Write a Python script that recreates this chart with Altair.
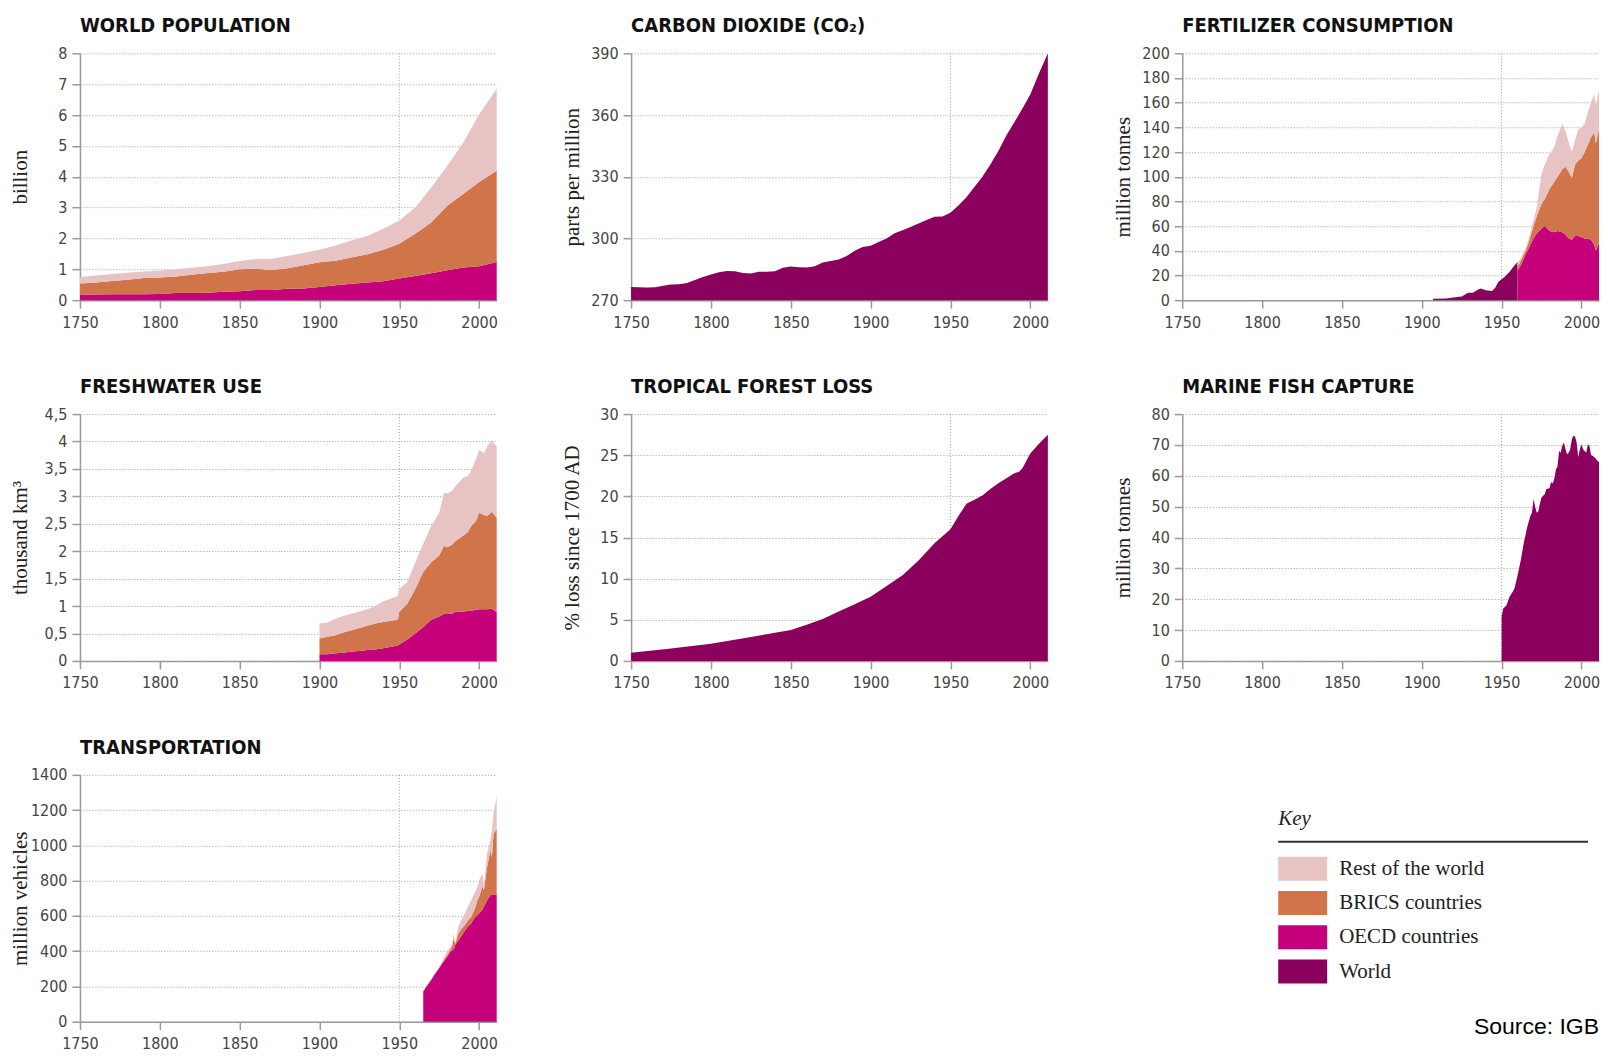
import altair as alt
import pandas as pd

# ---------------- categories / colours ----------------
GROUPS = ["Rest of the world", "BRICS countries", "OECD countries", "World"]
COLORS = ["#e8c3c3", "#d0744a", "#c5007a", "#8b005c"]

X_TICKS = [1750, 1800, 1850, 1900, 1950, 2000]

# ---------------- World population (billion) ----------------
pop_years = [1750, 1760, 1770, 1780, 1790, 1800, 1810, 1820, 1830, 1840, 1850, 1860, 1870,
             1880, 1890, 1900, 1910, 1920, 1930, 1940, 1950, 1960, 1970, 1980, 1990, 2000, 2011]
pop_oecd = [0.18, 0.18, 0.19, 0.19, 0.19, 0.20, 0.23, 0.23, 0.24, 0.27, 0.29, 0.33, 0.33,
            0.37, 0.38, 0.43, 0.48, 0.53, 0.57, 0.61, 0.70, 0.78, 0.87, 0.97, 1.06, 1.10, 1.24]
pop_brics = [0.36, 0.39, 0.43, 0.47, 0.53, 0.53, 0.54, 0.59, 0.64, 0.65, 0.71, 0.69, 0.65,
             0.66, 0.75, 0.80, 0.80, 0.85, 0.92, 1.02, 1.13, 1.37, 1.65, 2.09, 2.38, 2.73, 2.95]
pop_rest = [0.21, 0.23, 0.23, 0.23, 0.21, 0.22, 0.23, 0.23, 0.22, 0.25, 0.27, 0.31, 0.36,
            0.40, 0.40, 0.40, 0.49, 0.55, 0.59, 0.68, 0.75, 0.85, 1.13, 1.29, 1.66, 2.19, 2.66]

# ---------------- Carbon dioxide (ppm) ----------------
co2_years = [1750, 1755, 1760, 1765, 1770, 1775, 1780, 1785, 1790, 1795,
             1800, 1805, 1810, 1815, 1820, 1825, 1830, 1835, 1840, 1845,
             1850, 1855, 1860, 1865, 1870, 1875, 1880, 1885, 1890, 1895,
             1900, 1905, 1910, 1915, 1920, 1925, 1930, 1935, 1940, 1945,
             1950, 1955, 1960, 1965, 1970, 1975, 1980, 1985, 1990, 1995, 2000, 2005, 2011]
co2_ppm = [276.4, 276.3, 276.1, 276.3, 277.0, 277.6, 277.7, 278.3, 279.8, 281.3,
           282.5, 283.5, 284.2, 284.0, 283.2, 283.0, 283.8, 283.8, 284.0, 285.8,
           286.4, 286.0, 285.9, 286.5, 288.3, 289.0, 289.8, 291.5, 294.0, 295.8,
           296.5, 298.3, 300.0, 302.5, 304.0, 305.5, 307.3, 309.0, 310.6, 310.7,
           312.5, 316.0, 320.0, 325.0, 330.0, 336.0, 342.5, 350.0, 356.5, 363.0, 370.0, 379.5, 390.0]

# ---------------- Fertilizer consumption (million tonnes) ----------------
fert_world_years = [1907, 1915, 1922, 1925, 1929, 1932, 1935, 1937, 1940, 1944, 1946,
                    1948, 1950, 1952, 1955, 1958, 1960]
fert_world = [1.2, 1.3, 2.5, 3.0, 6.0, 6.0, 8.5, 9.5, 8.0, 7.5, 10.0,
              15.0, 17.0, 19.0, 23.0, 28.0, 31.0]
fert_years = [1960, 1962, 1965, 1967, 1970, 1972, 1975, 1977, 1980, 1983, 1985, 1988,
              1990, 1992, 1994, 1996, 1998, 2000, 2002, 2004, 2006, 2008, 2009, 2011]
fert_oecd = [24, 28, 37, 42, 50, 54, 58, 60, 56, 55, 56, 55,
             53, 50, 49, 52, 52, 51, 50, 50, 49, 45, 40, 46]
fert_brics = [3, 4, 3, 5, 10, 14, 20, 22, 34, 41, 44, 51,
              55, 54, 50, 58, 61, 64, 70, 76, 83, 91, 87, 93]
fert_rest = [4, 2, 2, 3, 5, 7, 24, 28, 28, 28, 33, 37,
             29, 24, 21, 20, 25, 25, 23, 26, 28, 31, 31, 31]

# ---------------- Freshwater use (thousand km3) ----------------
fw_years = [1900, 1905, 1910, 1915, 1920, 1925, 1930, 1935, 1940, 1945, 1949, 1950, 1955,
            1960, 1965, 1970, 1975, 1978, 1980, 1983, 1985, 1990, 1993, 1995, 1998, 2000,
            2003, 2005, 2008, 2009, 2011]
fw_oecd = [0.12, 0.12, 0.14, 0.15, 0.17, 0.18, 0.20, 0.21, 0.23, 0.26, 0.28, 0.30, 0.39,
           0.50, 0.62, 0.75, 0.81, 0.86, 0.87, 0.86, 0.89, 0.90, 0.91, 0.92, 0.93, 0.94,
           0.94, 0.94, 0.95, 0.93, 0.89]
fw_brics = [0.29, 0.32, 0.33, 0.37, 0.39, 0.42, 0.44, 0.47, 0.48, 0.47, 0.47, 0.59, 0.65,
            0.81, 1.00, 1.05, 1.11, 1.24, 1.20, 1.26, 1.29, 1.38, 1.44, 1.54, 1.62, 1.76,
            1.72, 1.70, 1.77, 1.75, 1.72]
fw_rest = [0.27, 0.26, 0.30, 0.30, 0.30, 0.30, 0.30, 0.32, 0.38, 0.41, 0.44, 0.42, 0.40,
           0.49, 0.51, 0.66, 0.78, 0.96, 0.98, 0.98, 1.00, 1.06, 1.02, 1.00, 1.12, 1.15,
           1.13, 1.27, 1.31, 1.29, 1.30]

# ---------------- Tropical forest loss (% since 1700) ----------------
forest_years = [1750, 1775, 1800, 1825, 1850, 1860, 1870, 1880, 1890, 1900, 1910, 1920, 1930,
                1940, 1950, 1955, 1960, 1965, 1970, 1975, 1980, 1985, 1990, 1993, 1995, 2000,
                2005, 2011]
forest_loss = [1.0, 1.5, 2.1, 2.9, 3.75, 4.4, 5.1, 6.0, 6.9, 7.8, 9.1, 10.4, 12.2,
               14.3, 16.0, 17.6, 19.1, 19.6, 20.1, 20.9, 21.6, 22.2, 22.8, 23.0, 23.4, 25.2,
               26.3, 27.5]

# ---------------- Marine fish capture (million tonnes) ----------------
fish_years = [1950, 1951, 1953, 1955, 1957, 1958, 1960, 1962, 1964, 1966, 1968, 1969, 1970,
              1971, 1972, 1973, 1974, 1975, 1976, 1977, 1978, 1980, 1981, 1982, 1983, 1984,
              1985, 1986, 1987, 1988, 1989, 1990, 1991, 1992, 1993, 1994, 1995, 1996, 1997,
              1998, 1999, 2000, 2001, 2002, 2003, 2004, 2005, 2006, 2007, 2008, 2009, 2010, 2011]
fish_catch = [14.3, 17.0, 18.0, 20.8, 22.4, 23.4, 27.7, 32.6, 38.5, 43.3, 47.0, 48.0, 52.5,
              50.0, 48.0, 48.5, 51.0, 53.0, 53.5, 54.0, 55.7, 56.0, 58.0, 57.5, 59.0, 62.0,
              63.0, 68.0, 67.5, 69.7, 70.8, 68.6, 67.0, 67.5, 68.6, 71.8, 73.0, 72.7, 70.8,
              66.0, 68.6, 70.2, 68.6, 68.0, 67.5, 70.2, 69.7, 66.7, 66.5, 66.0, 65.6, 64.8, 64.5]

# ---------------- Transportation (million vehicles) ----------------
tr_years = [1965, 1967, 1970, 1972, 1975, 1977, 1980, 1982, 1983, 1984, 1985, 1987, 1990,
            1992, 1993, 1995, 1997, 1999, 2000, 2002, 2003, 2005, 2007, 2008, 2009, 2011]
tr_oecd = [171, 200, 237, 266, 303, 331, 369, 397, 405, 407, 435, 460, 501,
           529, 540, 557, 586, 605, 614, 633, 652, 689, 717, 720, 723, 722]
tr_brics = [0, 1, 2, 2, 4, 5, 11, 13, 20, 63, 5, 40, 38,
            31, 36, 38, 47, 84, 94, 132, 94, 189, 255, 214, 343, 368]
tr_rest = [1, 2, 3, 4, 6, 9, 20, 15, 15, 30, 10, 40, 56,
           70, 76, 94, 94, 76, 94, 75, 37, 75, 56, 151, 113, 190]

# ---------------- layout constants ----------------
W, H = 417, 247
LABEL_FONT = "'Liberation Sans Narrow', 'DejaVu Sans Condensed', sans-serif"
SERIF = "'Liberation Serif', 'DejaVu Serif', serif"
GRID = "#9c9c9c"
AXIS = "#9a9a9a"

color_scale = alt.Scale(domain=GROUPS, range=COLORS)
x_enc = alt.X(
    "year:Q",
    scale=alt.Scale(domain=[1750, 2011], nice=False, zero=False),
    axis=alt.Axis(values=X_TICKS, format="d", title=None, grid=False, tickSize=8,
                  labelPadding=6, labelFlush=False, labelOverlap=False),
)


def stacked_df(years, oecd, brics, rest):
    rows = []
    for y, o, b, r in zip(years, oecd, brics, rest):
        rows.append({"year": y, "group": "OECD countries", "rank": 0, "value": o})
        rows.append({"year": y, "group": "BRICS countries", "rank": 1, "value": b})
        rows.append({"year": y, "group": "Rest of the world", "rank": 2, "value": r})
    return pd.DataFrame(rows)


def world_df(years, vals):
    return pd.DataFrame({"year": years, "value": vals, "group": ["World"] * len(years),
                         "rank": [0] * len(years)})


def y_enc(title, ticks, domain, stack, label_expr=None, fmt="d"):
    ax = dict(values=ticks, title=title, grid=True, gridDash=[1, 2], gridColor=GRID,
              gridWidth=1, tickSize=8, labelPadding=5, labelOverlap=False, format=fmt,
              titleX=-59, titleY=H / 2, titleAngle=270, titleAlign="center",
              titleBaseline="middle", titleFont=SERIF, titleFontSize=21,
              titleFontWeight="normal", titleColor="#222")
    if label_expr:
        ax["labelExpr"] = label_expr
    return alt.Y("value:Q", stack=stack,
                 scale=alt.Scale(domain=domain, nice=False, zero=False),
                 axis=alt.Axis(**ax))


def area_layer(df, ytitle, yticks, ydomain, stacked, label_expr=None, fmt="d"):
    return alt.Chart(df).mark_area(interpolate="linear", opacity=1).encode(
        x=x_enc,
        y=y_enc(ytitle, yticks, ydomain, "zero" if stacked else None, label_expr, fmt),
        color=alt.Color("group:N", scale=color_scale, legend=None),
        order=alt.Order("rank:Q", sort="ascending"),
    )


def panel(title, areas):
    rule = alt.Chart(pd.DataFrame({"year": [1950]})).mark_rule(
        color=GRID, strokeDash=[1, 2], strokeWidth=1).encode(x=x_enc)
    return alt.layer(rule, *areas).properties(
        width=W, height=H,
        title=alt.TitleParams(text=title, anchor="start", frame="group",
                              font=LABEL_FONT, fontSize=20, fontWeight="bold",
                              color="#111", offset=9),
    )


p_pop = panel("WORLD POPULATION", [
    area_layer(stacked_df(pop_years, pop_oecd, pop_brics, pop_rest), "billion",
               list(range(0, 9)), [0, 8], True)])
p_co2 = panel("CARBON DIOXIDE (CO\u2082)", [
    area_layer(world_df(co2_years, co2_ppm), "parts per million",
               [270, 300, 330, 360, 390], [270, 390], False)])
p_fert = panel("FERTILIZER CONSUMPTION", [
    area_layer(world_df(fert_world_years, fert_world), "million tonnes",
               list(range(0, 201, 20)), [0, 200], False),
    area_layer(stacked_df(fert_years, fert_oecd, fert_brics, fert_rest), "million tonnes",
               list(range(0, 201, 20)), [0, 200], True)])
p_fw = panel("FRESHWATER USE", [
    area_layer(stacked_df(fw_years, fw_oecd, fw_brics, fw_rest), "thousand km\u00b3",
               [0, 0.5, 1, 1.5, 2, 2.5, 3, 3.5, 4, 4.5], [0, 4.5], True,
               label_expr="replace(datum.label, '.', ',')", fmt=".1~f")])
p_forest = panel("TROPICAL FOREST LOSS", [
    area_layer(world_df(forest_years, forest_loss), "% loss since 1700 AD",
               list(range(0, 31, 5)), [0, 30], False)])
p_fish = panel("MARINE FISH CAPTURE", [
    area_layer(world_df(fish_years, fish_catch), "million tonnes",
               list(range(0, 81, 10)), [0, 80], False)])
p_tr = panel("TRANSPORTATION", [
    area_layer(stacked_df(tr_years, tr_oecd, tr_brics, tr_rest), "million vehicles",
               list(range(0, 1401, 200)), [0, 1400], True)])

# ---------------- key ----------------
KX = 647.5
key_df = pd.DataFrame({"group": GROUPS})
key_y = alt.Y("group:N", sort=GROUPS, axis=None,
              scale=alt.Scale(range=[82, 208.9], paddingInner=0.3, paddingOuter=0))
key_swatch = alt.Chart(key_df).mark_rect().encode(
    y=key_y, x=alt.value(KX), x2=alt.value(KX + 49),
    color=alt.Color("group:N", scale=color_scale, legend=None))
key_labels = alt.Chart(key_df).mark_text(
    align="left", baseline="middle", font=SERIF, fontSize=21, color="#222").encode(
    y=key_y, x=alt.value(KX + 61), text="group:N")
key_title = alt.Chart(pd.DataFrame({"t": ["Key"]})).mark_text(
    align="left", baseline="alphabetic", font=SERIF, fontStyle="italic", fontSize=21,
    color="#222").encode(x=alt.value(KX), y=alt.value(50), text="t:N")
key_rule = alt.Chart(pd.DataFrame({"t": [0]})).mark_rule(color="#333", strokeWidth=2).encode(
    x=alt.value(KX), x2=alt.value(KX + 310), y=alt.value(67))
source = alt.Chart(pd.DataFrame({"t": ["Source: IGB"]})).mark_text(
    align="right", baseline="alphabetic", font="'Liberation Sans', Arial, sans-serif",
    fontSize=23, color="#000").encode(x=alt.value(KX + 321), y=alt.value(259), text="t:N")
key = alt.layer(key_swatch, key_labels, key_title, key_rule, source).properties(width=W, height=H)

chart = alt.concat(
    p_pop, p_co2, p_fert, p_fw, p_forest, p_fish, p_tr, key,
    columns=3, spacing={"row": 114, "column": 134.5}, bounds="flush",
).properties(
    padding={"left": 2, "top": 8, "right": 0, "bottom": 0},
    background="white",
).configure_view(stroke=None).configure_axis(
    domainColor=AXIS, domainWidth=1.5, tickColor=AXIS, tickWidth=1.5,
    labelFont=LABEL_FONT, labelFontSize=16, labelColor="#444",
)

chart.save("out.html", embed_options={"renderer": "svg", "actions": False})
